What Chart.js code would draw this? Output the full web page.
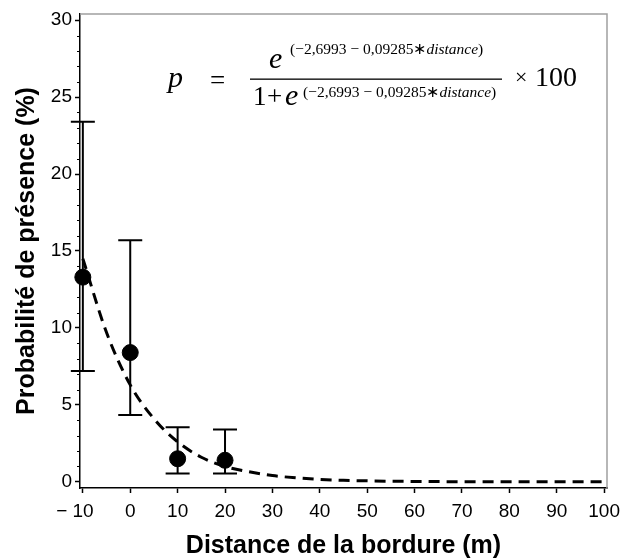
<!DOCTYPE html>
<html>
<head>
<meta charset="utf-8">
<script src="https://cdn.jsdelivr.net/npm/chart.js@4.4.0/dist/chart.umd.min.js"></script>
<style>
  html, body { margin: 0; padding: 0; background: #fff; }
  #wrap { width: 621px; height: 560px; }
</style>
</head>
<body>
<div id="wrap"><canvas id="chart"></canvas></div>
<script>
// observed points (mean + error bar)
const distances = [-10, 0, 10, 20];
const presence = [13.3, 8.4, 1.5, 1.4];
const errLow = [7.2, 4.35, 0.55, 0.55];
const errHigh = [23.4, 15.7, 3.55, 3.4];

// fitted logistic curve
const curveX = [-10, -5, 0, 5, 10, 15, 20, 25, 30, 35, 40, 45, 50, 55, 60, 65, 70, 75, 80, 85, 90, 95, 100];
const curveY = [14.5, 9.7, 6.3, 4.1, 2.6, 1.6, 1.0, 0.66, 0.41, 0.26, 0.16, 0.10, 0.065, 0.04, 0.026, 0.016, 0.01, 0.006, 0.004, 0.003, 0.002, 0.001, 0.001];

const yMinorTicks = [1, 2, 3, 4, 6, 7, 8, 9, 11, 12, 13, 14, 16, 17, 18, 19, 21, 22, 23, 24, 26, 27, 28, 29];

const xTitle = 'Distance de la bordure (m)';
const yTitle = 'Probabilité de présence (%)';

const sans = "'Liberation Sans', Arial, Helvetica, sans-serif";
const serif = "'Liberation Serif', 'Times New Roman', serif";

const points = distances.map((d, i) => ({ x: d, y: presence[i] }));
const curve = curveX.map((d, i) => ({ x: d, y: curveY[i] }));

// error bars + minor ticks + frame
const extras = {
    id: 'extras',
    beforeDatasetsDraw(chart) {
        const { ctx, scales: { x, y } } = chart;
        ctx.save();
        ctx.strokeStyle = '#000';
        ctx.lineWidth = 2;
        distances.forEach((d, i) => {
            const px = x.getPixelForValue(d);
            const top = y.getPixelForValue(errHigh[i]);
            const bot = y.getPixelForValue(errLow[i]);
            ctx.beginPath();
            ctx.moveTo(px, top); ctx.lineTo(px, bot);
            ctx.moveTo(px - 12, top); ctx.lineTo(px + 12, top);
            ctx.moveTo(px - 12, bot); ctx.lineTo(px + 12, bot);
            ctx.stroke();
        });
        ctx.restore();
    },
    afterDraw(chart) {
        const { ctx, chartArea: a, scales: { y } } = chart;
        ctx.save();
        // grey frame top / right
        ctx.strokeStyle = '#a0a0a0';
        ctx.lineWidth = 1.5;
        ctx.beginPath();
        ctx.moveTo(a.left, a.top); ctx.lineTo(a.right, a.top); ctx.lineTo(a.right, a.bottom);
        ctx.stroke();
        // minor ticks
        ctx.strokeStyle = '#000';
        ctx.lineWidth = 1;
        ctx.beginPath();
        yMinorTicks.forEach(v => {
            const py = Math.round(y.getPixelForValue(v)) + 0.5;
            ctx.moveTo(a.left - 3, py); ctx.lineTo(a.left, py);
        });
        ctx.stroke();
        drawFormula(ctx);
        ctx.restore();
    }
};

function run(ctx, parts, x, y) {
    parts.forEach(p => {
        ctx.font = p.f;
        ctx.fillText(p.t, x, y);
        x += ctx.measureText(p.t).width;
    });
    return x;
}

function drawFormula(ctx) {
    ctx.fillStyle = '#000';
    ctx.textBaseline = 'alphabetic';
    ctx.textAlign = 'left';
    const big = 'italic 30px ' + serif;
    const num = '27px ' + serif;
    const sup = '15.5px ' + serif;
    const supI = 'italic 15.5px ' + serif;
    const expo = [
        { t: '(\u22122,6993 \u2212 0,09285\u2217', f: sup },
        { t: 'distance', f: supI },
        { t: ')', f: sup }
    ];
    run(ctx, [{ t: 'p', f: big }], 168, 87);
    run(ctx, [{ t: '=', f: num }], 210, 89);
    // numerator
    run(ctx, [{ t: 'e', f: big }], 269, 68);
    run(ctx, expo, 290, 54);
    // fraction bar
    ctx.fillRect(250, 78.5, 252, 1.3);
    // denominator
    run(ctx, [{ t: '1', f: num }], 253, 105);
    run(ctx, [{ t: '+', f: num }], 267, 105);
    run(ctx, [{ t: 'e', f: big }], 285, 105);
    run(ctx, expo, 303, 97);
    run(ctx, [{ t: '\u00d7', f: '22px ' + serif }], 515, 84);
    run(ctx, [{ t: '100', f: '28px ' + serif }], 535, 86);
}

new Chart(document.getElementById('chart'), {
    type: 'scatter',
    data: {
        datasets: [{
            type: 'line',
            data: curve,
            borderColor: '#000',
            borderWidth: 3,
            borderDash: [11, 7],
            pointRadius: 0,
            cubicInterpolationMode: 'monotone',
            fill: false,
            clip: false
        }, {
            data: points,
            backgroundColor: '#000',
            borderColor: '#000',
            pointRadius: 8,
            pointHoverRadius: 8,
            clip: false
        }]
    },
    options: {
        responsive: true,
        maintainAspectRatio: false,
        animation: false,
        layout: { padding: { top: 14, right: 14, left: 0, bottom: 0 } },
        plugins: { legend: { display: false }, tooltip: { enabled: false } },
        scales: {
            x: {
                type: 'linear',
                min: -10.6,
                max: 100.6,
                afterFit(s) { s.height = 72; s.paddingLeft = 0; s.paddingRight = 0; },
                ticks: {
                    stepSize: 10,
                    includeBounds: false,
                    maxRotation: 0,
                    autoSkip: false,
                    color: '#000',
                    padding: 7,
                    font: { family: sans, size: 19 },
                    callback: v => v < 0 ? '\u2212 ' + Math.abs(v) + '   ' : String(v)
                },
                grid: { drawOnChartArea: false, tickLength: 5, tickColor: '#000', tickWidth: 1.5 },
                border: { color: '#000', width: 1.5 },
                title: {
                    display: true, text: xTitle, color: '#000',
                    font: { family: sans, size: 25, weight: 'bold' },
                    padding: { top: 0, bottom: -1 }
                }
            },
            y: {
                min: -0.4,
                max: 30.4,
                afterFit(s) { s.width = 80; s.paddingTop = 0; s.paddingBottom = 0; },
                ticks: {
                    stepSize: 5,
                    includeBounds: false,
                    color: '#000',
                    padding: 3,
                    font: { family: sans, size: 19 }
                },
                grid: { drawOnChartArea: false, tickLength: 5, tickColor: '#000', tickWidth: 1.5 },
                border: { color: '#000', width: 1.5 },
                title: {
                    display: true, text: yTitle, color: '#000',
                    font: { family: sans, size: 25, weight: 'bold' },
                    padding: { top: 12, bottom: 0 }
                }
            }
        }
    },
    plugins: [extras]
});
</script>
</body>
</html>
